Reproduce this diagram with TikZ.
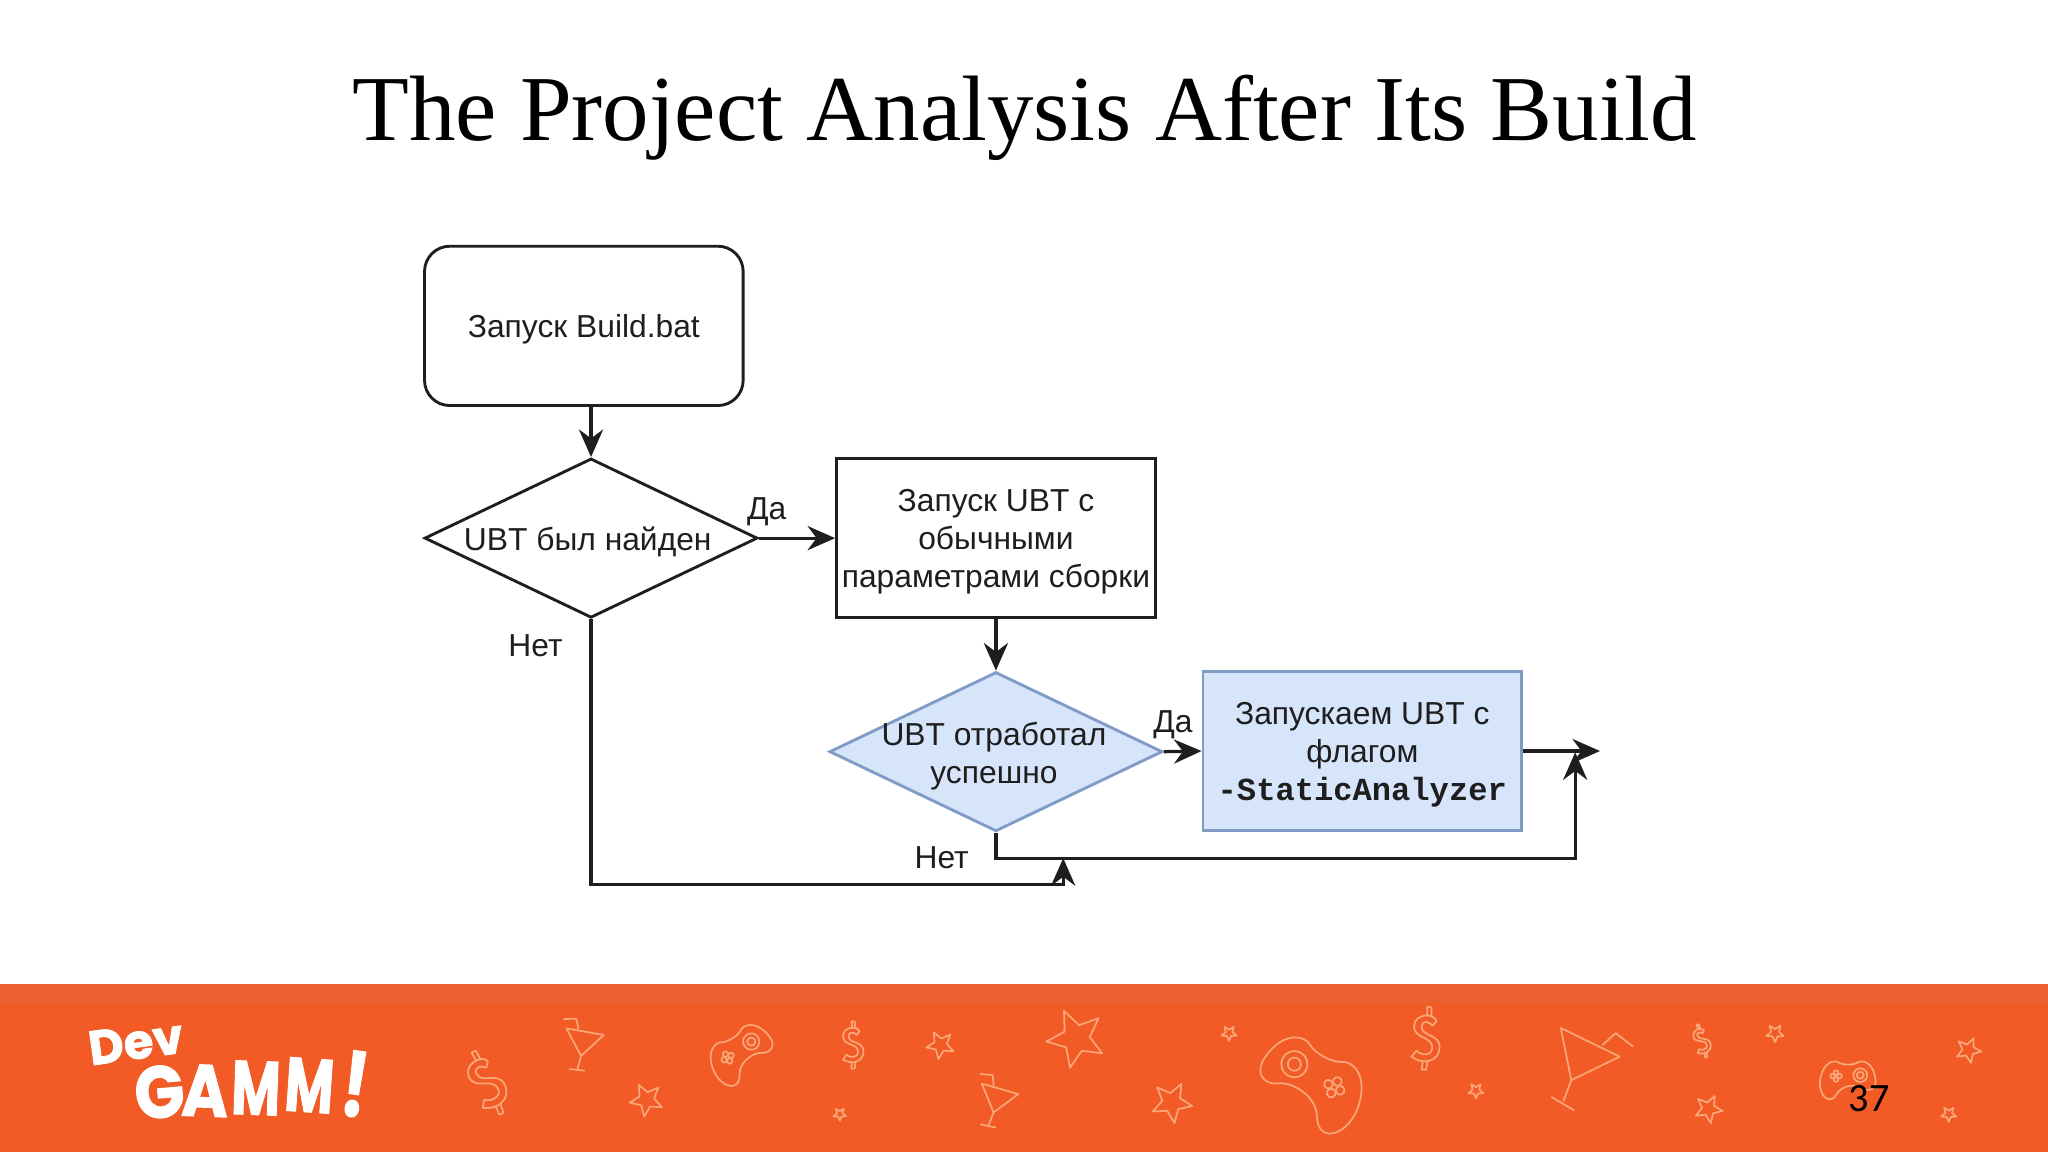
\documentclass[tikz,border=0pt]{standalone}
\usepackage{fontspec}
\setmainfont{Liberation Sans}
\newfontfamily\titlefont{Liberation Serif}
\newfontfamily\numfont{Carlito}
\newfontfamily\logofont{Poppins Bold}[FakeBold=1.6]
\newfontfamily\codefont{Liberation Mono}
\usetikzlibrary{shapes.geometric,arrows.meta}
\definecolor{band}{HTML}{F25B25}
\definecolor{bandtop}{HTML}{EC6133}
\definecolor{iconc}{HTML}{F9A778}
\definecolor{bluefill}{HTML}{D6E5F9}
\definecolor{blueline}{HTML}{7F9CC6}
\definecolor{inkc}{HTML}{1E1E1E}
\newcommand{\dnstrut}{\rule{0pt}{12.9pt}}
\tikzset{
  chartbox/.style={draw=inkc,line width=1.25pt,minimum width=4.88cm,minimum height=2.44cm,inner sep=0pt,align=center,font=\fontsize{13.85}{16.4}\selectfont,text=inkc},
  chartdiamond/.style={diamond,aspect=2.09,draw=inkc,line width=1.25pt,minimum width=5.1cm,minimum height=2.44cm,inner sep=0pt},
  blueshape/.style={draw=blueline,fill=bluefill},
  chartlabel/.style={font=\fontsize{13.85}{16.4}\selectfont,text=inkc,inner sep=0pt,align=center},
  conn/.style={draw=inkc,line width=1.4pt,-{Stealth[length=12pt,width=10.5pt]}},
  icon/.style={draw=iconc,line width=0.75pt,line join=round,line cap=round},
  logotext/.style={text=white,inner sep=0pt,font=\logofont\fontsize{29}{29}\selectfont},
  starp/.pic={\draw[icon] (90:1)--(126:.45)--(162:1)--(198:.45)--(234:1)--(270:.45)--(306:1)--(342:.45)--(18:1)--(54:.45)--cycle;},
  dollarp/.pic={
    \draw[icon] (0.28,-0.58) .. controls (0.15,-0.85) and (-0.42,-0.75) .. (-0.42,-0.38) .. controls (-0.42,0.08) and (0.22,-0.12) .. (0.22,0.32) .. controls (0.22,0.52) and (-0.1,0.58) .. (-0.28,0.42)
      -- (-0.42,0.62) .. controls (-0.05,0.86) and (0.45,0.72) .. (0.45,0.28) .. controls (0.45,-0.2) and (-0.18,-0.02) .. (-0.18,-0.38) .. controls (-0.18,-0.58) and (0.05,-0.55) .. (0.16,-0.42) -- cycle;
    \draw[icon] (-0.03,-0.72)--(-0.06,-1)--(0.08,-1)--(0.1,-0.7);
    \draw[icon] (-0.05,0.74)--(-0.06,1)--(0.08,1)--(0.1,0.74);
  },
  cocktailp/.pic={
    \draw[icon] (-25,-28)--(20,-6)--(-17,12)--cycle;
    \draw[icon] (-17,12)--(-23,28);
    \draw[icon] (-32,25)--(-15,35);
    \draw[icon] (7,-15)--(17,-24)--(30,-14);
  },
  padp/.pic={
    \draw[icon] (-0.98,0.12) .. controls (-0.92,-0.4) and (-0.62,-0.62) .. (-0.38,-0.55) .. controls (-0.2,-0.42) and (0.2,-0.42) .. (0.38,-0.55) .. controls (0.62,-0.62) and (0.9,-0.4) .. (0.95,0.05) .. controls (1,0.42) and (0.72,0.52) .. (0.5,0.36) .. controls (0.3,0.22) and (-0.2,0.25) .. (-0.38,0.55) .. controls (-0.6,0.98) and (-1.02,0.7) .. (-0.98,0.12) -- cycle;
    \draw[icon] (0.42,-0.08) circle (0.24);
    \draw[icon] (0.42,-0.08) circle (0.12);
    \foreach \a in {0,90,180,270}{\draw[icon] ([shift={(\a:0.12)}]-0.42,-0.05) circle (0.08);}
  },
}
\begin{document}
\begin{tikzpicture}[x=0.02cm,y=-0.02cm]
\useasboundingbox (0,0) rectangle (1568,882);
\fill[white] (0,0) rectangle (1568,882);
% footer band
\fill[band] (0,753) rectangle (1568,882);
\fill[bandtop] (0,753) rectangle (1568,768);
\foreach \x/\y/\r/\s in {495/842/-8/13, 720/800/-8/11, 643/853/0/5, 824/795/-12/23, 897/844/8/16, 941/791/0/6, 1130/835/0/6, 1359/791/0/7, 1308/849/10/11, 1492/853/0/6, 1507/804/12/10}
  \pic[rotate=\r,scale=\s] at (\x,\y) {starp};
\foreach \x/\y/\r/\s in {373/829/24/26, 653/800/0/18, 1092/795/-5/24, 1303/797/15/13}
  \pic[rotate=\r,scale=\s] at (\x,\y) {dollarp};
\pic[rotate=-36,xscale=-1,scale=0.58] at (441,797) {cocktailp};
\pic[rotate=-42,xscale=-1,scale=0.58] at (758,840) {cocktailp};
\pic at (1220,815) {cocktailp};
\pic[rotate=32,scale=26] at (567,805) {padp};
\pic[rotate=-28,xscale=-1,scale=42] at (1005,826) {padp};
\pic[scale=22] at (1415,825) {padp};
% logo
\node[name=logodev,rotate=8,text=white,inner sep=0pt,font=\logofont\fontsize{21}{21}\selectfont] at (104,798) {Dev};
\node[logotext,name=logog,rotate=5,yscale=1.1,xscale=.98] at (122,836) {G};
\node[logotext,name=logoa,rotate=-2,yscale=1.1,xscale=.95] at (157,835) {A};
\node[logotext,name=logom,rotate=-2,xscale=.8,yscale=1.14] at (196,833) {M};
\node[logotext,name=logon,rotate=-4,xscale=.8,yscale=1.14] at (237,831) {M};
\node[logotext,name=logoe,rotate=-8,yscale=1.35] at (272,830) {!};
% title
\node[name=title,inner sep=0pt,text=black,font=\titlefont\fontsize{40.5}{41}\selectfont] at (784.5,90) {The Project Analysis After Its Build};
% page number
\node[name=pagenum,inner sep=0pt,text=black,font=\numfont\fontsize{17.5}{18}\selectfont] at (1431,841) {37};
% chart
\node[chartbox,rounded corners=11pt,name=start] at (447,249.5) {\dnstrut Запуск Build.bat};
\node[chartdiamond,name=found] at (452.5,412) {};
\node[chartlabel,name=foundtext] at (450,415) {UBT был найден};
\node[chartbox,name=plain] at (762.5,412) {\dnstrut Запуск UBT с\\обычными\\параметрами сборки};
\node[chartdiamond,blueshape,name=ok] at (762.5,575.5) {};
\node[chartlabel,name=oktext] at (761,579) {UBT отработал\\успешно};
\node[chartbox,blueshape,draw=blueline,name=run,fill=bluefill] at (1043,575) {\dnstrut Запускаем UBT с\\флагом\\{\codefont\bfseries\fontsize{14}{16.4}\selectfont -StaticAnalyzer}};
\coordinate (exit) at (1225,575);
\coordinate (midjoin) at (814,657);
\coordinate (rightjoin) at (1206,576);
\coordinate (c1) at (452,677);
\coordinate (c2) at (763,657);
\draw[conn] (start.south -| found.north) -- (found.north);
\draw[conn] (found.east) -- (plain.west);
\draw[conn] (plain.south) -- (ok.north);
\draw[conn] (ok.east) -- (run.west);
\draw[conn] (run.east) -- (exit);
\draw[conn] (ok.south) -- (ok.south |- c2) -- (c2 -| rightjoin) -- (rightjoin);
\draw[conn] (found.south) -- (found.south |- c1) -- (c1 -| midjoin) -- (midjoin);
\node[chartlabel,name=yes1] at (587,392) {Да};
\node[chartlabel,name=no1] at (410,494) {Нет};
\node[chartlabel,name=yes2] at (898,555) {Да};
\node[chartlabel,name=no2] at (721,657) {Нет};
\end{tikzpicture}
\end{document}
